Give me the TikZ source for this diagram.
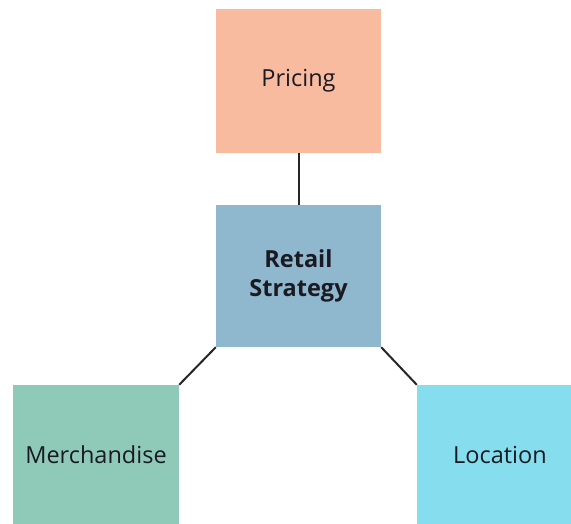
\documentclass[tikz,border=0pt]{standalone}
\usepackage{fontspec}
\setmainfont{Open Sans}
\usepackage{tikz}
\usetikzlibrary{positioning}
\definecolor{pricefill}{HTML}{F9BBA0}
\definecolor{retailfill}{HTML}{8FB7CE}
\definecolor{merchfill}{HTML}{8FCAB9}
\definecolor{locfill}{HTML}{86DDED}
\definecolor{txt}{HTML}{1A1A22}
\tikzset{box/.style={align=center,inner sep=0pt,text=txt,font=\fontsize{23.5}{29}\selectfont},
  link/.style={line width=2pt,black!85}}

\begin{document}
\begin{tikzpicture}[x=1pt,y=1pt]
\useasboundingbox (0,0) rectangle (571,524);
\node[box,fill=pricefill,minimum width=165,minimum height=144] (pricing) at (298.5,443){Pricing};
\node[box,fill=retailfill,minimum width=165,minimum height=142,font=\fontsize{23.5}{29}\selectfont\bfseries] (retail) at (298.5,248){Retail\\Strategy};
\node[box,fill=merchfill,minimum width=166,minimum height=139] (merch) at (96,69.5){Merchandise};
\node[box,fill=locfill,minimum width=154,minimum height=139] (loc) at (494,69.5){};
\node[box] (loctext) at ([xshift=6]loc.center){Location};
\draw[link] (pricing.south)--(retail.north);
\draw[link] (retail.south west)--(merch.north east);
\draw[link] (retail.south east)--(loc.north west);
\end{tikzpicture}
\end{document}
